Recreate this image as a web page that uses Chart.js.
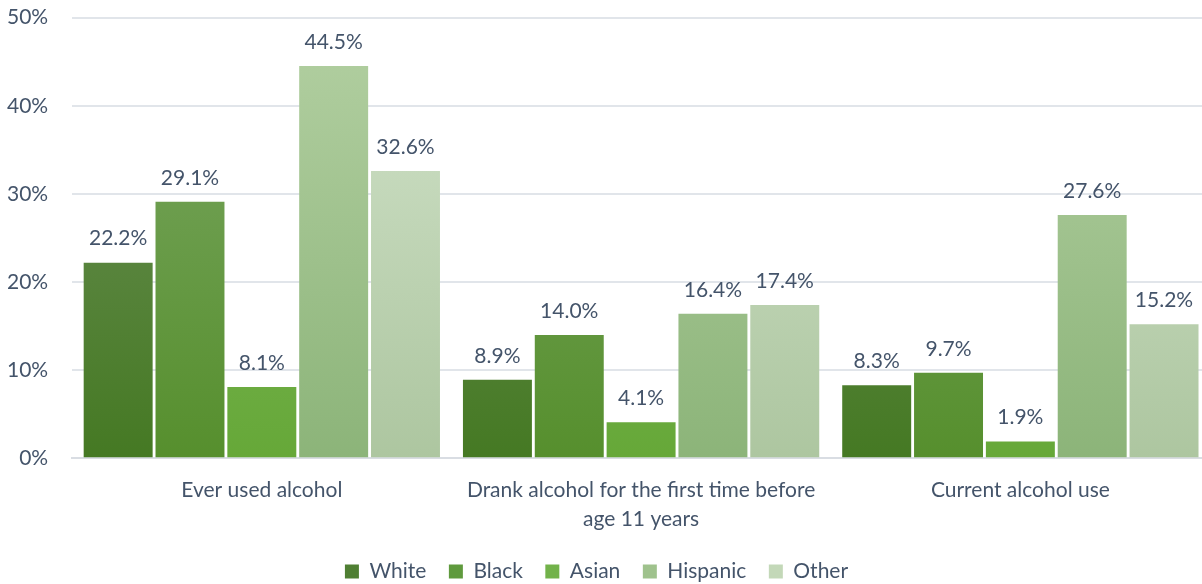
<!DOCTYPE html>
<html><head><meta charset="utf-8">
<script src="https://cdn.jsdelivr.net/npm/chart.js@4"></script>
<style>html,body{margin:0;padding:0;background:#fff;overflow:hidden}#w{position:relative;width:1202px;height:584px;overflow:hidden}#c{position:absolute;left:0;top:-19px}</style>
</head><body><div id="w"><canvas id="c" width="1210" height="611"></canvas></div>
<script>
const categories = [["Ever used alcohol"], ["Drank alcohol for the first time before", "age 11 years"], ["Current alcohol use"]];
const seriesNames = ["White", "Black", "Asian", "Hispanic", "Other"];
const white = [22.2, 8.9, 8.3];
const black = [29.1, 14.0, 9.7];
const asian = [8.1, 4.1, 1.9];
const hispanic = [44.5, 16.4, 27.6];
const other = [32.6, 17.4, 15.2];
const yTicks = [0, 10, 20, 30, 40, 50];

const gradTop = ["#6b8f56", "#78a55f", "#82b862", "#afcd9e", "#cee0c6"];
const gradBot = ["#457923", "#568f2d", "#66a838", "#8cb479", "#adc6a0"];
const legendCol = ["#4f7f33", "#5f9a3d", "#72b24a", "#9fc28d", "#c3d8b8"];
const textCol = "#44546a";
const FONT = "Lato, 'Open Sans', sans-serif";
const FS = 21;

function grad(i){
  return function(ctx){
    const ch = ctx.chart; const a = ch.chartArea;
    if(!a) return gradBot[i];
    const y = ch.scales.y;
    const g = ch.ctx.createLinearGradient(0, y.getPixelForValue(45), 0, y.getPixelForValue(0));
    g.addColorStop(0, gradTop[i]); g.addColorStop(1, gradBot[i]);
    return g;
  };
}

const allVals = [white, black, asian, hispanic, other];
const datasets = allVals.map((v, i) => ({
  label: seriesNames[i], data: v, backgroundColor: grad(i),
  borderWidth: 0, barPercentage: 0.96, categoryPercentage: 0.947
}));

const labelPlugin = {
  id: 'vals',
  afterDatasetsDraw(chart){
    const c = chart.ctx; c.save();
    c.font = FS + "px " + FONT; c.fillStyle = textCol; c.textAlign = "center"; c.textBaseline = "middle";
    chart.data.datasets.forEach((ds, di) => {
      chart.getDatasetMeta(di).data.forEach((bar, j) => {
        c.fillText(ds.data[j].toFixed(1) + "%", bar.x, bar.y - 24);
      });
    });
    c.restore();
  }
};

new Chart(document.getElementById('c'), {
  type: 'bar',
  data: { labels: categories, datasets },
  options: {
    responsive: false, animation: false, devicePixelRatio: 1,
    layout: { padding: { top: 0, right: 0, left: -17, bottom: 0 } },
    plugins: {
      tooltip: { enabled: false },
      legend: {
        position: 'bottom',
        labels: {
          font: { family: FONT, size: FS }, color: textCol, boxWidth: 14, boxHeight: 14, padding: 12,
          generateLabels(chart){
            return seriesNames.map((n, i) => ({ text: i < seriesNames.length - 1 ? n + "\u2002" : n, fillStyle: legendCol[i], strokeStyle: legendCol[i], lineWidth: 0, datasetIndex: i, fontColor: textCol }));
          }
        }
      }
    },
    scales: {
      x: {
        afterFit(s){ s.height -= 2; },
        grid: { display: false, drawTicks: false },
        border: { color: "#d9dde3", width: 2 },
        ticks: { font: { family: FONT, size: FS, lineHeight: 1.35 }, color: textCol, padding: 18, maxRotation: 0, autoSkip: false }
      },
      y: {
        min: 0, max: 50,
        afterBuildTicks(s){ s.ticks = yTicks.map(v => ({ value: v })); },
        grid: { color: "#e1e5ea", lineWidth: 2, drawTicks: false },
        border: { display: false },
        ticks: { font: { family: FONT, size: FS }, color: textCol, padding: 24, callback: v => v + "%" }
      }
    }
  },
  plugins: [labelPlugin]
});
</script></body></html>
